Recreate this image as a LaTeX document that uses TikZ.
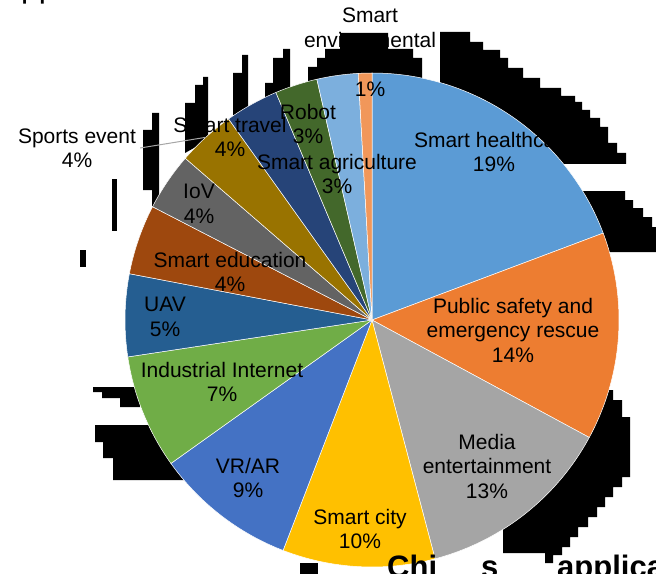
\documentclass[tikz,border=0pt]{standalone}
\usepackage{fontspec}
\setmainfont{Liberation Sans}
\definecolor{cHealth}{HTML}{5B9BD5}
\definecolor{cSafety}{HTML}{ED7D31}
\definecolor{cMedia}{HTML}{A5A5A5}
\definecolor{cCity}{HTML}{FFC000}
\definecolor{cVR}{HTML}{4472C4}
\definecolor{cInd}{HTML}{70AD47}
\definecolor{cUAV}{HTML}{255E91}
\definecolor{cEdu}{HTML}{9E480E}
\definecolor{cIoV}{HTML}{636363}
\definecolor{cSport}{HTML}{997300}
\definecolor{cTravel}{HTML}{264478}
\definecolor{cRobot}{HTML}{43682B}
\definecolor{cAgri}{HTML}{7CAFDD}
\definecolor{cEnv}{HTML}{F1975A}
\begin{document}
\begin{tikzpicture}[x=1bp,y=-1bp,
  lbl/.style={align=center, font=\fontsize{21bp}{24.5bp}\selectfont, inner sep=0pt, text=black},
  big/.style={anchor=base west, inner sep=0pt, font=\fontsize{31bp}{31bp}\selectfont\bfseries},
  blk/.style={fill=black, draw=none},
  slice/.style={draw=white, line width=0.5bp},
  leader/.style={draw=black!35, line width=1bp}]
\useasboundingbox (0,0) rectangle (656,574);
% ---- black artefacts (behind the pie) ----
\fill[blk] (308,90) -- (308,67) -- (317,67) -- (317,58) -- (325,58) -- (325,49) -- (340,49) -- (340,33)
  -- (388,33) -- (388,49) -- (413,49) -- (413,58) -- (422,58) -- (422,90) -- cycle;
\fill[blk] (440,115) -- (440,32) -- (470,32) -- (470,42) -- (483,42) -- (483,50) -- (500,50) -- (500,58)
  -- (508,58) -- (508,68) -- (523,68) -- (523,78) -- (540,78) -- (540,88) -- (561,88) -- (561,96)
  -- (575,96) -- (575,102) -- (582,102) -- (582,110) -- (590,110) -- (590,118) -- (600,118) -- (600,127)
  -- (608,127) -- (608,143) -- (617,143) -- (617,153) -- (626,153) -- (626,164) -- (500,164) -- cycle;
\fill[blk] (575,195) -- (583,191) -- (625,191) -- (625,200) -- (633,200) -- (633,208) -- (643,208)
  -- (643,217) -- (652,217) -- (652,227) -- (656,227) -- (656,252) -- (600,252) -- (575,230) -- cycle;
\fill[blk] (590,395) -- (603,390) -- (613,390) -- (613,400) -- (622,400) -- (622,417) -- (630,417)
  -- (630,477) -- (622,477) -- (622,487) -- (613,487) -- (613,497) -- (605,497) -- (605,507) -- (597,507)
  -- (597,517) -- (588,517) -- (588,527) -- (578,527) -- (578,537) -- (570,537) -- (570,547) -- (562,547)
  -- (562,555) -- (553,555) -- (553,563) -- (545,563) -- (545,553) -- (503,553) -- (503,520) -- (480,450) -- cycle;
\fill[blk] (300,563) rectangle (318,574);
\fill[blk] (93,387) -- (140,387) -- (140,407) -- (120,407) -- (120,398) -- (102,398) -- (102,392) -- (93,392) -- cycle;
\fill[blk] (95,425) -- (150,425) -- (185,480) -- (113,480) -- (113,458) -- (103,458) -- (103,442) -- (95,442) -- cycle;
\fill[blk] (80,250) rectangle (86,267);
\fill[blk] (112,179) rectangle (117,231);
\fill[blk] (152,113) -- (159,113) -- (159,207) -- (152,207) -- (152,190) -- (143,190) -- (143,130) -- (152,130) -- cycle;
\fill[blk] (203,77) -- (208,77) -- (208,140) -- (185,153) -- (185,103) -- (195,103) -- (195,85) -- (203,85) -- cycle;
\fill[blk] (242,55) -- (248,55) -- (248,115) -- (233,115) -- (233,73) -- (242,73) -- cycle;
\fill[blk] (283,49) -- (290,49) -- (290,100) -- (265,100) -- (265,83) -- (273,83) -- (273,58) -- (283,58) -- cycle;
% ---- pie ----
\coordinate (c) at (372,320);
\foreach \a/\b/\col in {0/69.4/cHealth, 69.4/118.4/cSafety, 118.4/165.2/cMedia, 165.2/201.1/cCity,
  201.1/234.5/cVR, 234.5/261.4/cInd, 261.4/280.8/cUAV, 280.8/297.3/cEdu, 297.3/310.9/cIoV,
  310.9/324.5/cSport, 324.5/337.1/cTravel, 337.1/347.1/cRobot, 347.1/356.8/cAgri, 356.8/360/cEnv}
  \filldraw[slice, fill=\col] (c) -- ++({\a-90}:247) arc[start angle={\a-90}, end angle={\b-90}, radius=247] -- cycle;
% ---- labels ----
\node[lbl] (env) at (370,52) {Smart\\environmental\\[24.5bp]1\%};
\node[lbl] (hc) at (494,152) {Smart healthcare\\19\%};
\node[lbl] (ps) at (513,330) {Public safety and\\emergency rescue\\14\%};
\node[lbl] (me) at (487,466) {Media\\entertainment\\13\%};
\node[lbl] (city) at (360,529) {Smart city\\10\%};
\node[lbl] (vr) at (248,478) {VR/AR\\9\%};
\node[lbl] (ind) at (222,382) {Industrial Internet\\7\%};
\node[lbl] (uav) at (165,317) {UAV\\5\%};
\node[lbl] (edu) at (230,272) {Smart education\\4\%};
\node[lbl] (iov) at (199,204) {IoV\\4\%};
\node[lbl] (sp) at (77,148) {Sports event\\4\%};
\node[lbl] (tr) at (230,137) {Smart travel\\4\%};
\node[lbl] (rob) at (308,124) {Robot\\3\%};
\node[lbl] (agr) at (337,174) {Smart agriculture\\3\%};
\path (c) ++({317.7-90}:247) coordinate (spe);
\draw[leader] ([xshift=4bp]sp.east) -- (spe);
% ---- cut-off title fragments ----
\node[anchor=base west, inner sep=0pt, font=\fontsize{32bp}{32bp}\selectfont] (top) at (21,-2.5) {pp};
\node[big] (t1) at (387,577) {Chi};
\node[big] (t2) at (481,577) {s};
\node[big] (t3) at (557,577) {applications};
\end{tikzpicture}
\end{document}
